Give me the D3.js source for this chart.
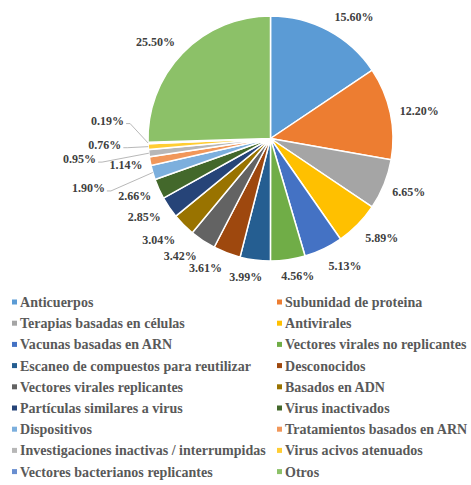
<html>
  <head>
    <title>Pie D3</title>
    <style>
      body { margin: 0; background: #fff; }
    </style>
  </head>
  <body>
    <script type="text/javascript" src="https://cdn.jsdelivr.net/npm/d3@7/dist/d3.min.js"></script>
    <script type="text/javascript">
    var categories = [
      "Anticuerpos", "Subunidad de proteina", "Terapias basadas en células", "Antivirales",
      "Vacunas basadas en ARN", "Vectores virales no replicantes", "Escaneo de compuestos para reutilizar",
      "Desconocidos", "Vectores virales replicantes", "Basados en ADN", "Partículas similares a virus",
      "Virus inactivados", "Dispositivos", "Tratamientos basados en ARN",
      "Investigaciones inactivas / interrumpidas", "Virus acivos atenuados",
      "Vectores bacterianos replicantes", "Otros"
    ];
    var values = [15.60, 12.20, 6.65, 5.89, 5.13, 4.56, 3.99, 3.61, 3.42, 3.04, 2.85, 2.66, 1.90, 1.14, 0.95, 0.76, 0.19, 25.50];
    var labels = ["15.60%", "12.20%", "6.65%", "5.89%", "5.13%", "4.56%", "3.99%", "3.61%", "3.42%",
                  "3.04%", "2.85%", "2.66%", "1.90%", "1.14%", "0.95%", "0.76%", "0.19%", "25.50%"];
    var colors = ["#5b9bd5", "#ed7d31", "#a5a5a5", "#ffc000", "#4472c4", "#70ad47", "#255e91", "#9e480e",
                  "#636363", "#997300", "#264478", "#43682b", "#7cafdd", "#f1975a", "#b7b7b7", "#ffcd33",
                  "#698ed0", "#8cc168"];

    // label nudges (Excel best-fit spreads them a bit), and which get a leader line
    var nudge = [[12,0],[0,1],[0,1],[5,2],[10,2],[6,0],[-6,1],[-12,0],[-8,2],[-6,4],[-3,0],[0,0],
                 [-39,11],[2,1],[-43,4],[-17,-3],[-14,-23],[-6,0]];
    var leader = [12, 14, 15, 16];

    var width = 471, height = 485,
        cx = 270.5, cy = 138.5, r = 122.5,
        serif = "'Liberation Serif', 'DejaVu Serif', 'Times New Roman', serif";

    var svg = d3.select('body').append('svg')
        .attr('width', width)
        .attr('height', height)
        .style('font-family', serif)
        .style('font-weight', 'bold');

    var pie = d3.pie().sort(null).value(function(d) { return d; });
    var arcs = pie(values);
    var arc = d3.arc().innerRadius(0).outerRadius(r);

    var g = svg.append('g').attr('transform', "translate(" + cx + "," + cy + ")");

    g.selectAll('path.slice')
      .data(arcs)
      .enter().append('path')
        .attr('class', 'slice')
        .attr('d', arc)
        .attr('fill', function(d, i) { return colors[i]; })
        .attr('stroke', '#fff')
        .attr('stroke-width', 1.5);

    var lab = g.selectAll('text.lab')
      .data(arcs)
      .enter().append('text')
        .attr('class', 'lab')
        .attr('font-family', serif)
        .attr('font-size', 12)
        .attr('fill', '#404040')
        .attr('text-anchor', 'middle')
        .attr('dy', '0.35em')
        .text(function(d, i) { return labels[i]; });

    lab.each(function(d, i) {
      var a = (d.startAngle + d.endAngle) / 2;
      var w = this.getComputedTextLength(), h = 12;
      var s = Math.sin(a), c = Math.cos(a);
      var x = (r + 10) * s + w / 2 * s + nudge[i][0];
      var y = -(r + 10) * c - h / 2 * c + nudge[i][1];
      d3.select(this).attr('x', x).attr('y', y);
      if (leader.indexOf(i) >= 0) {
        var x0 = x + w / 2 + 2, y0 = y + 3;
        g.append('path')
          .attr('d', "M" + x0 + "," + y0 + "L" + (x0 + 4) + "," + y0 +
                     "L" + (r * s) + "," + (-r * c))
          .attr('fill', 'none')
          .attr('stroke', '#a6a6a6')
          .attr('stroke-width', 0.8);
      }
    });

    // legend, two columns
    var legend = svg.append('g');
    var item = legend.selectAll('g.item')
      .data(categories)
      .enter().append('g')
        .attr('class', 'item')
        .attr('transform', function(d, i) {
          var col = i % 2, row = Math.floor(i / 2);
          return "translate(" + (col ? 277 : 12) + "," + (302 + row * 21.2) + ")";
        });
    item.append('rect')
      .attr('x', 0).attr('y', -2.5)
      .attr('width', 5).attr('height', 5)
      .attr('fill', function(d, i) { return colors[i]; });
    item.append('text')
      .attr('x', 8)
      .attr('dy', '0.35em')
      .attr('font-family', serif)
      .attr('font-size', 14)
      .attr('letter-spacing', 0.03)
      .attr('fill', '#595959')
      .text(function(d) { return d; });
    </script>
  </body>
</html>
